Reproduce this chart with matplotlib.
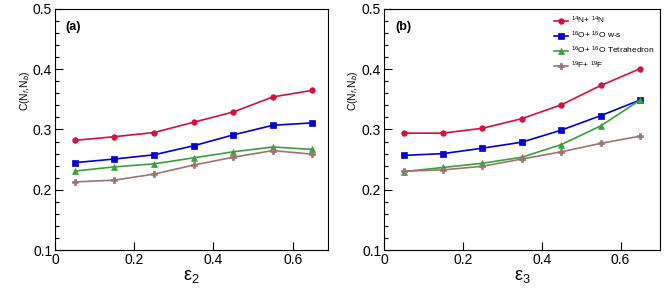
import numpy as np
import matplotlib
matplotlib.use("Agg")
import matplotlib.pyplot as plt
from matplotlib.ticker import MultipleLocator

plt.rcParams["font.family"] = ["Liberation Sans", "DejaVu Sans"]
plt.rcParams["mathtext.fontset"] = "custom"
plt.rcParams["mathtext.rm"] = "Liberation Sans"
plt.rcParams["mathtext.it"] = "Liberation Sans:italic"

# =========================
# Data
# =========================
eps = [0.05, 0.15, 0.25, 0.35, 0.45, 0.55, 0.65]

# panel (a): eps_2
n14_a = [0.282, 0.288, 0.295, 0.312, 0.329, 0.354, 0.365]
o16ws_a = [0.245, 0.251, 0.258, 0.273, 0.291, 0.307, 0.311]
o16tet_a = [0.231, 0.238, 0.243, 0.253, 0.263, 0.271, 0.267]
f19_a = [0.213, 0.216, 0.226, 0.241, 0.254, 0.265, 0.259]

# panel (b): eps_3
n14_b = [0.294, 0.294, 0.302, 0.318, 0.341, 0.373, 0.401]
o16ws_b = [0.257, 0.260, 0.269, 0.279, 0.299, 0.323, 0.349]
o16tet_b = [0.230, 0.237, 0.244, 0.254, 0.275, 0.306, 0.349]
f19_b = [0.231, 0.233, 0.239, 0.251, 0.263, 0.277, 0.289]

labels = [r"$^{14}$N+ $^{14}$N", r"$^{16}$O+ $^{16}$O w-s",
          r"$^{16}$O+ $^{16}$O Tetrahedron", r"$^{19}$F+ $^{19}$F"]
colors = ["#d5103c", "#0000d0", "#3aa03a", "#9e7472"]
markers = ["o", "s", "^", "P"]

# =========================
# Plot
# =========================
fig = plt.figure(figsize=(6.7, 2.97), dpi=100)
ax_a = fig.add_axes([0.082, 0.158, 0.408, 0.812])
ax_b = fig.add_axes([0.573, 0.158, 0.412, 0.812])

panels = [
    (ax_a, [n14_a, o16ws_a, o16tet_a, f19_a], "ε$_2$", "(a)", 0.69),
    (ax_b, [n14_b, o16ws_b, o16tet_b, f19_b], "ε$_3$", "(b)", 0.70),
]

for ax, series, xlab, tag, xmax in panels:
    for ys, c, m, lab in zip(series, colors, markers, labels):
        ax.plot(eps, ys, color=c, marker=m, markersize=4, lw=1.2,
                markeredgewidth=0.5, label=lab)
    ax.set_xlim(0, xmax)
    ax.set_ylim(0.1, 0.5)
    ax.set_xticks([0, 0.2, 0.4, 0.6])
    ax.set_xticklabels(["0", "0.2", "0.4", "0.6"])
    ax.yaxis.set_major_locator(MultipleLocator(0.1))
    ax.yaxis.set_minor_locator(MultipleLocator(0.02))
    ax.tick_params(axis="both", which="major", direction="in", length=6,
                   width=0.8, labelsize=10, pad=2)
    ax.tick_params(axis="y", which="minor", direction="in", length=3, width=0.8)
    ax.set_xlabel(xlab, fontsize=13, labelpad=1)
    ax.set_ylabel(r"C(N$_f$,N$_b$)", fontsize=7.5, labelpad=1)
    ax.yaxis.set_label_coords(-0.085, 0.66)
    ax.text(0.04, 0.925, tag, transform=ax.transAxes, fontsize=9,
            fontweight="bold", va="center")
    for s in ax.spines.values():
        s.set_linewidth(0.8)

ax_b.legend(loc="upper right", frameon=False, fontsize=6,
            handlelength=1.7, handletextpad=0.3, labelspacing=0.45,
            borderaxespad=0.3)

fig.savefig("out.png", dpi=100)
plt.close(fig)
